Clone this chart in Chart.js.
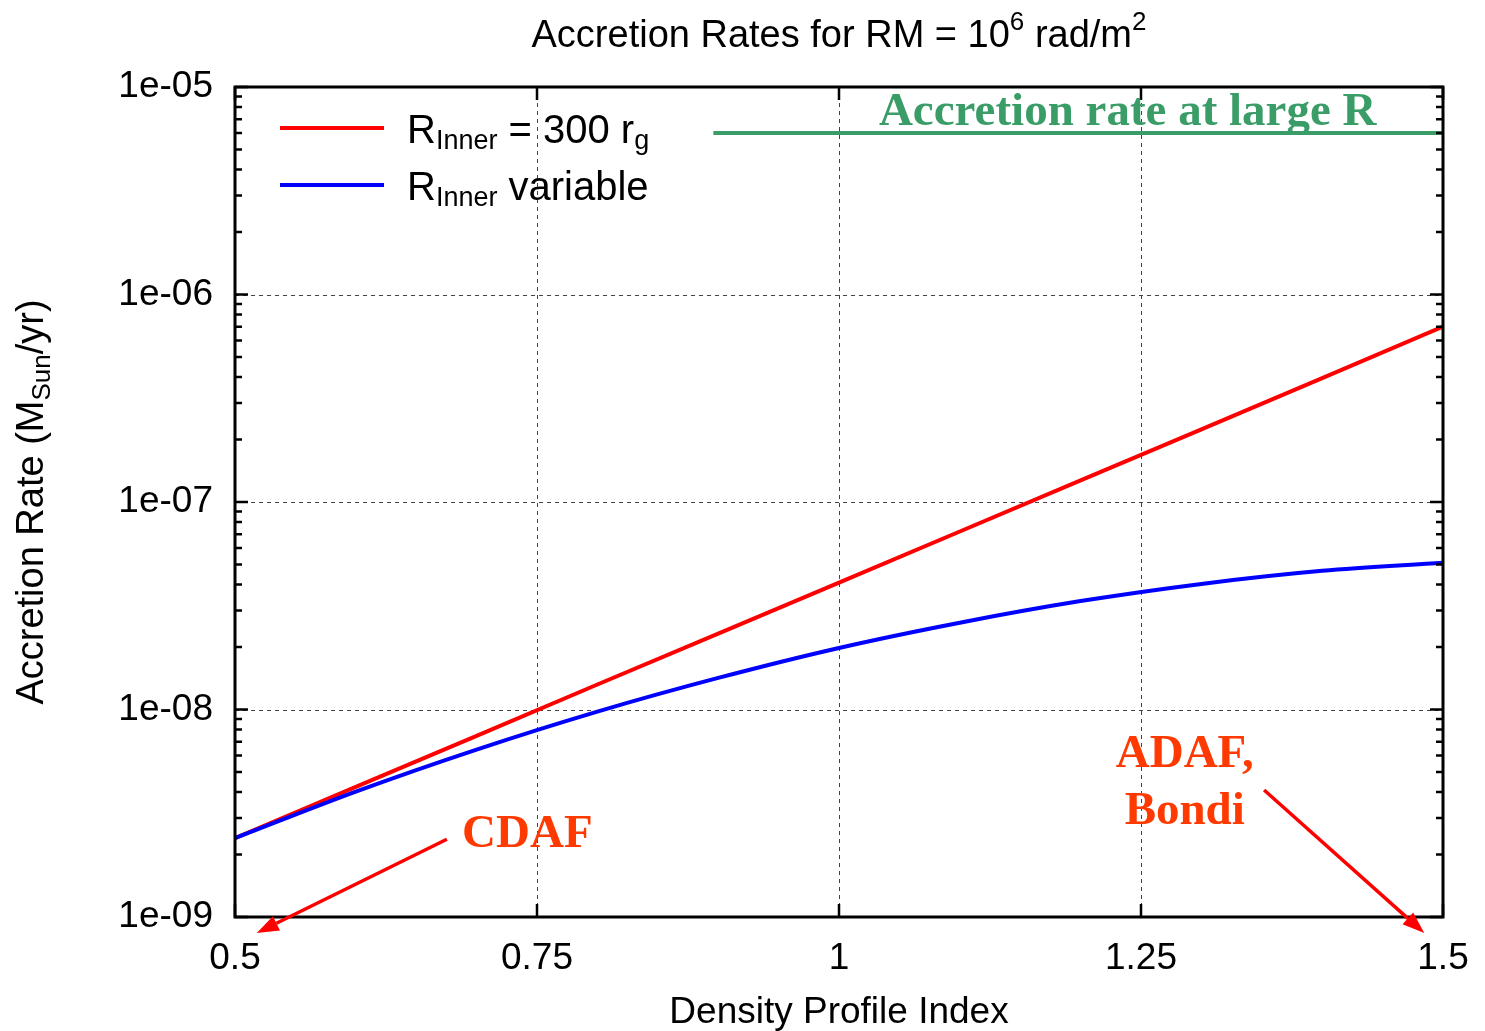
<!DOCTYPE html>
<html>
<head>
<meta charset="utf-8">
<title>Accretion Rates</title>
<script src="https://cdn.jsdelivr.net/npm/chart.js@4/dist/chart.umd.min.js"></script>
<style>
  html, body { margin: 0; padding: 0; background: #ffffff; }
  canvas { display: block; }
</style>
</head>
<body>
<canvas id="chart" width="1485" height="1031"></canvas>
<script>
// Density profile index (x) and accretion rates in solar masses per year
const densityIndex      = [0.5, 0.6, 0.7, 0.8, 0.9, 1.0, 1.1, 1.2, 1.3, 1.4, 1.5];
const rateFixedInner    = [2.40e-9, 4.24e-9, 7.47e-9, 1.32e-8, 2.32e-8, 4.09e-8, 7.21e-8, 1.27e-7, 2.24e-7, 3.95e-7, 7.00e-7];
const rateVariableInner = [2.40e-9, 4.02e-9, 6.41e-9, 9.77e-9, 1.42e-8, 1.98e-8, 2.62e-8, 3.33e-8, 4.03e-8, 4.66e-8, 5.10e-8];

// Reference level: accretion rate at large radius
const largeRIndex = [0.896, 1.5];
const largeRRate  = [6.0e-6, 6.0e-6];

// Axis ticks
const xTickValues = [0.5, 0.75, 1, 1.25, 1.5];
const xTickLabels = ['0.5', '0.75', '1', '1.25', '1.5'];
const yTickValues = [1e-9, 1e-8, 1e-7, 1e-6, 1e-5];
const yTickLabels = ['1e-09', '1e-08', '1e-07', '1e-06', '1e-05'];

// Annotation labels (placed in data units)
const noteTexts = ['Accretion rate at large R', 'CDAF', 'ADAF,', 'Bondi'];
const noteAt    = [[1.239, 6.56e-6], [0.688, 2.17e-9], [1.2862, 5.28e-9], [1.2862, 2.81e-9]];
const noteAlign = ['center', 'left', 'center', 'center'];
const noteColor = ['#3a9d68', '#ff3a00', '#ff3a00', '#ff3a00'];
const arrowFrom = [[0.6754, 2.37e-9], [1.3519, 4.09e-9]];
const arrowTo   = [[0.518, 8.37e-10], [1.4845, 8.37e-10]];

const SANS  = "'Liberation Sans', Arial, Helvetica, sans-serif";
const SERIF = "'Liberation Serif', 'Times New Roman', serif";

// Draw a run of text pieces with sub/superscripts starting at (x, y) baseline
function richWidth(ctx, parts, size, small) {
  let w = 0;
  for (const p of parts) {
    ctx.font = (p.sub || p.sup ? small : size) + 'px ' + SANS;
    w += ctx.measureText(p.t).width;
  }
  return w;
}
function drawRich(ctx, parts, x, y, size, small, shift, align) {
  const w = richWidth(ctx, parts, size, small);
  let cx = align === 'center' ? x - w / 2 : x;
  ctx.textAlign = 'left';
  ctx.textBaseline = 'alphabetic';
  for (const p of parts) {
    ctx.font = (p.sub || p.sup ? small : size) + 'px ' + SANS;
    const dy = p.sub ? shift.sub : (p.sup ? -shift.sup : 0);
    ctx.fillText(p.t, cx, y + dy);
    cx += ctx.measureText(p.t).width;
  }
}

const framePlugin = {
  id: 'gnuFrame',
  beforeDatasetsDraw(chart) {
    const { ctx, chartArea: a, scales: { x, y } } = chart;
    ctx.save();
    ctx.lineWidth = 1;
    ctx.setLineDash([4, 4]);
    ctx.strokeStyle = '#444';
    for (const v of xTickValues) {
      const px = Math.round(x.getPixelForValue(v)) + 0.5;
      if (px <= a.left + 3 || px >= a.right - 3) continue;
      ctx.beginPath(); ctx.moveTo(px, a.top); ctx.lineTo(px, a.bottom); ctx.stroke();
    }
    for (const v of yTickValues) {
      const py = Math.round(y.getPixelForValue(v)) + 0.5;
      if (py <= a.top + 3 || py >= a.bottom - 3) continue;
      ctx.beginPath(); ctx.moveTo(a.left, py); ctx.lineTo(a.right, py); ctx.stroke();
    }
    ctx.restore();
  },
  afterDatasetsDraw(chart) {
    const { ctx, chartArea: a, scales: { x, y } } = chart;
    ctx.save();
    ctx.strokeStyle = '#000';
    ctx.lineWidth = 3;
    ctx.setLineDash([]);
    ctx.strokeRect(a.left, a.top, a.right - a.left, a.bottom - a.top);

    // inward tick marks
    const major = 13, minor = 7;
    ctx.lineWidth = 2.5;
    ctx.beginPath();
    for (const v of xTickValues) {
      const px = x.getPixelForValue(v);
      ctx.moveTo(px, a.bottom); ctx.lineTo(px, a.bottom - major);
      ctx.moveTo(px, a.top); ctx.lineTo(px, a.top + major);
    }
    for (const v of yTickValues) {
      const py = y.getPixelForValue(v);
      ctx.moveTo(a.left, py); ctx.lineTo(a.left + major, py);
      ctx.moveTo(a.right, py); ctx.lineTo(a.right - major, py);
    }
    for (let d = 0; d < yTickValues.length - 1; d++) {
      for (let m = 2; m <= 9; m++) {
        const py = y.getPixelForValue(m * yTickValues[d]);
        ctx.moveTo(a.left, py); ctx.lineTo(a.left + minor, py);
        ctx.moveTo(a.right, py); ctx.lineTo(a.right - minor, py);
      }
    }
    ctx.stroke();

    // annotation labels
    ctx.font = 'bold 47px ' + SERIF;
    ctx.textBaseline = 'alphabetic';
    noteTexts.forEach((t, i) => {
      ctx.fillStyle = noteColor[i];
      ctx.textAlign = noteAlign[i];
      ctx.fillText(t, x.getPixelForValue(noteAt[i][0]), y.getPixelForValue(noteAt[i][1]));
    });

    // arrows pointing at the regimes
    ctx.strokeStyle = '#ff0000';
    ctx.fillStyle = '#ff0000';
    ctx.lineWidth = 3.5;
    arrowFrom.forEach((f, i) => {
      const x0 = x.getPixelForValue(f[0]), y0 = y.getPixelForValue(f[1]);
      const x1 = x.getPixelForValue(arrowTo[i][0]), y1 = y.getPixelForValue(arrowTo[i][1]);
      const ang = Math.atan2(y1 - y0, x1 - x0);
      const hl = 22, hw = 8;
      const bx = x1 - hl * Math.cos(ang), by = y1 - hl * Math.sin(ang);
      ctx.beginPath(); ctx.moveTo(x0, y0); ctx.lineTo(bx, by); ctx.stroke();
      ctx.beginPath();
      ctx.moveTo(x1, y1);
      ctx.lineTo(bx + hw * Math.sin(ang), by - hw * Math.cos(ang));
      ctx.lineTo(bx - hw * Math.sin(ang), by + hw * Math.cos(ang));
      ctx.closePath(); ctx.fill();
    });
    ctx.restore();
  },
  afterDraw(chart) {
    const { ctx, chartArea: a } = chart;
    ctx.save();
    ctx.fillStyle = '#000';
    const cx = (a.left + a.right) / 2;

    // title with superscripts
    drawRich(ctx, [{ t: 'Accretion Rates for RM = 10' }, { t: '6', sup: true }, { t: ' rad/m' }, { t: '2', sup: true }],
      cx, 47, 38, 26, { sup: 17, sub: 0 }, 'center');

    // y axis title, rotated
    ctx.save();
    ctx.translate(43, (a.top + a.bottom) / 2);
    ctx.rotate(-Math.PI / 2);
    drawRich(ctx, [{ t: 'Accretion Rate (M' }, { t: 'Sun', sub: true }, { t: '/yr)' }],
      0, 0, 38, 26, { sub: 7, sup: 0 }, 'center');
    ctx.restore();

    // legend
    const rows = [
      { color: chart.data.datasets[1].borderColor, y: 128, parts: [{ t: 'R' }, { t: 'Inner', sub: true }, { t: ' = 300 r' }, { t: 'g', sub: true }] },
      { color: chart.data.datasets[0].borderColor, y: 185, parts: [{ t: 'R' }, { t: 'Inner', sub: true }, { t: ' variable' }] }
    ];
    for (const r of rows) {
      ctx.strokeStyle = r.color;
      ctx.lineWidth = 4;
      ctx.beginPath(); ctx.moveTo(280, r.y); ctx.lineTo(384, r.y); ctx.stroke();
      ctx.fillStyle = '#000';
      drawRich(ctx, r.parts, 407, r.y + 15, 40, 27, { sub: 6, sup: 0 }, 'left');
    }
    ctx.restore();
  }
};

const toPoints = (xs, ys) => xs.map((v, i) => ({ x: v, y: ys[i] }));

new Chart(document.getElementById('chart'), {
  type: 'line',
  data: {
    datasets: [
      {
        label: 'R_Inner variable',
        data: toPoints(densityIndex, rateVariableInner),
        borderColor: '#0000ff',
        borderWidth: 4,
        pointRadius: 0,
        cubicInterpolationMode: 'monotone',
        order: 0
      },
      {
        label: 'R_Inner = 300 r_g',
        data: toPoints(densityIndex, rateFixedInner),
        borderColor: '#ff0000',
        borderWidth: 4,
        pointRadius: 0,
        tension: 0,
        order: 1
      },
      {
        label: 'Accretion rate at large R',
        data: toPoints(largeRIndex, largeRRate),
        borderColor: '#3a9d68',
        borderWidth: 4,
        pointRadius: 0,
        tension: 0,
        order: 2
      }
    ]
  },
  options: {
    responsive: false,
    animation: false,
    devicePixelRatio: 1,
    layout: { padding: { left: 0, top: 87, right: 42, bottom: 0 } },
    plugins: {
      legend: { display: false },
      title: { display: false },
      tooltip: { enabled: false }
    },
    scales: {
      x: {
        type: 'linear',
        min: 0.5,
        max: 1.5,
        grid: { display: false, drawTicks: false },
        border: { display: false },
        afterBuildTicks: s => { s.ticks = xTickValues.map(v => ({ value: v })); },
        afterFit: s => { s.height = 114; s.paddingLeft = 0; s.paddingRight = 0; },
        ticks: {
          color: '#000',
          padding: 20,
          maxRotation: 0,
          autoSkip: false,
          font: { family: SANS, size: 37 },
          callback: v => xTickLabels[xTickValues.indexOf(v)]
        },
        title: {
          display: true,
          text: 'Density Profile Index',
          color: '#000',
          font: { family: SANS, size: 37, lineHeight: 1 },
          padding: { top: 0, bottom: 0 }
        }
      },
      y: {
        type: 'logarithmic',
        min: 1e-9,
        max: 1e-5,
        grid: { display: false, drawTicks: false },
        border: { display: false },
        afterBuildTicks: s => { s.ticks = yTickValues.map(v => ({ value: v })); },
        afterFit: s => { s.width = 235; s.paddingTop = 0; s.paddingBottom = 0; },
        ticks: {
          color: '#000',
          padding: 22,
          autoSkip: false,
          font: { family: SANS, size: 37 },
          callback: v => {
            const i = yTickValues.findIndex(t => Math.abs(t - v) / t < 1e-6);
            return i >= 0 ? yTickLabels[i] : '';
          }
        }
      }
    }
  },
  plugins: [framePlugin]
});
</script>
</body>
</html>
